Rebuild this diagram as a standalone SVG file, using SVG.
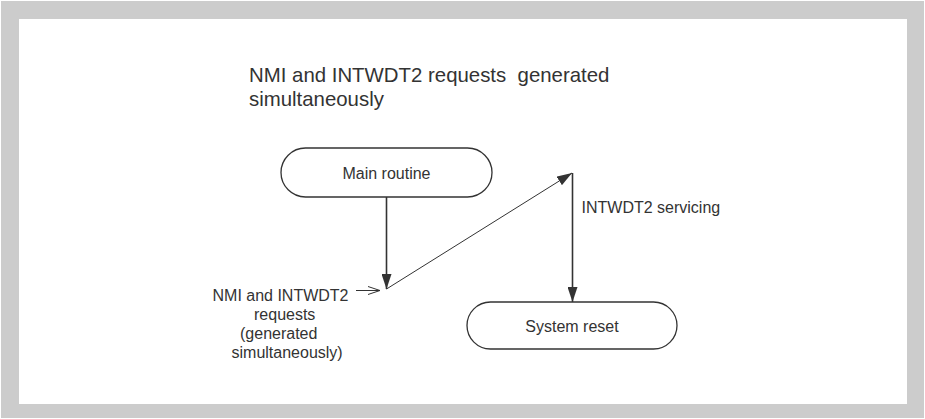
<svg xmlns="http://www.w3.org/2000/svg" width="925" height="419" viewBox="0 0 925 419">
<defs>
<style>
text{font-family:"Liberation Sans",Arial,sans-serif;fill:#333;}
.lbl{font-size:16px;}
.title{font-size:20.4px;white-space:pre;}
.node{fill:#fff;stroke:#333;stroke-width:1.3;}
.conn{stroke:#333;fill:none;}
</style>
<marker id="ah" viewBox="0 0 15 10" refX="15" refY="5" markerWidth="15" markerHeight="10" markerUnits="userSpaceOnUse" orient="auto">
<path d="M0,0 L15,5 L0,10 Z" fill="#333"/>
</marker>
<marker id="open" viewBox="0 0 12 10" refX="12" refY="5" markerWidth="12" markerHeight="10" markerUnits="userSpaceOnUse" orient="auto">
<path d="M0,1 L12,5 L0,9" fill="none" stroke="#333" stroke-width="1"/>
</marker>
</defs>
<rect x="1" y="1" width="923" height="417" fill="#cccccc"/>
<rect x="19" y="19" width="888" height="385" fill="#ffffff"/>
<g id="title">
<text class="title" x="249" y="82" xml:space="preserve">NMI and INTWDT2 requests  generated</text>
<text class="title" x="249" y="105.5">simultaneously</text>
</g>
<g id="main-routine">
<rect class="node" x="281" y="148" width="211" height="49" rx="24.5" ry="24.5"/>
<text class="lbl" x="386.5" y="179" text-anchor="middle">Main routine</text>
</g>
<g id="system-reset">
<rect class="node" x="467" y="302" width="210" height="47" rx="23.5" ry="23.5"/>
<text class="lbl" x="572" y="332" text-anchor="middle">System reset</text>
</g>
<g id="request-label">
<text class="lbl" x="212.5" y="301">NMI and INTWDT2</text>
<text class="lbl" x="254" y="320">requests</text>
<text class="lbl" x="240" y="338.5">(generated</text>
<text class="lbl" x="231.5" y="357.5">simultaneously)</text>
</g>
<g id="servicing-label">
<text class="lbl" x="581.5" y="213">INTWDT2 servicing</text>
</g>
<g id="connectors">
<line class="conn" x1="386.5" y1="197" x2="386.5" y2="289" stroke-width="1.6" marker-end="url(#ah)"/>
<line class="conn" x1="386.5" y1="289" x2="572" y2="173" stroke-width="1" marker-end="url(#ah)"/>
<line class="conn" x1="572.5" y1="173" x2="572.5" y2="302" stroke-width="1.6" marker-end="url(#ah)"/>
<line class="conn" x1="356" y1="290.5" x2="380" y2="290.5" stroke-width="1" marker-end="url(#open)"/>
</g>
</svg>
